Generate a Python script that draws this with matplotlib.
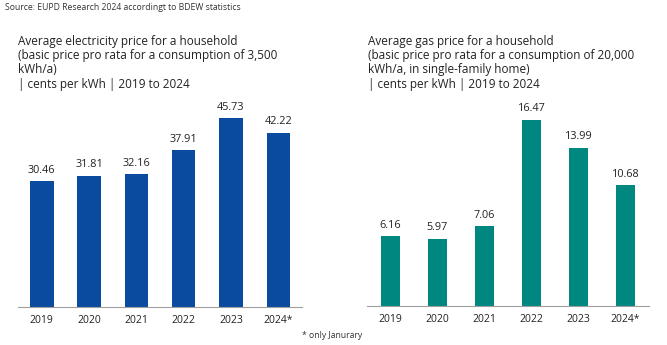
import numpy as np
import matplotlib.pyplot as plt

plt.rcParams['font.family'] = ['Open Sans', 'DejaVu Sans']

# Data
years = ['2019', '2020', '2021', '2022', '2023', '2024*']
electricity = [30.46, 31.81, 32.16, 37.91, 45.73, 42.22]
gas = [6.16, 5.97, 7.06, 16.47, 13.99, 10.68]

elec_title = ('Average electricity price for a household\n'
              '(basic price pro rata for a consumption of 3,500\n'
              'kWh/a)\n'
              '| cents per kWh | 2019 to 2024')
gas_title = ('Average gas price for a household\n'
             '(basic price pro rata for a consumption of 20,000\n'
             'kWh/a, in single-family home)\n'
             '| cents per kWh | 2019 to 2024')

W, H = 667, 345
fig = plt.figure(figsize=(W / 100, H / 100), dpi=100)


def px_axes(left, right, bottom_y, ymax, px_per_unit):
    # axes placed in pixel coordinates (y measured from top of image)
    height = ymax * px_per_unit
    return fig.add_axes([left / W, (H - bottom_y) / H, (right - left) / W, height / H])


def bar_panel(ax, values, color, width, ymax):
    x = np.arange(len(values))
    ax.bar(x, values, width=width, color=color)
    ax.set_xlim(-0.5, len(values) - 0.5)
    ax.set_ylim(0, ymax)
    for s in ['top', 'right', 'left']:
        ax.spines[s].set_visible(False)
    ax.spines['bottom'].set_color('#a0a0a0')
    ax.spines['bottom'].set_linewidth(0.8)
    ax.set_yticks([])
    ax.set_xticks(x)
    ax.set_xticklabels(years, fontsize=7.5, color='#222222')
    ax.tick_params(axis='x', length=0, pad=6)
    for xi, v in zip(x, values):
        ax.annotate(f'{v:.2f}', (xi, v), xytext=(0, 4), textcoords='offset points',
                    ha='center', va='bottom', fontsize=7.8, color='#222222')


ax1 = px_axes(18, 302, 307, 50, 4.13)
bar_panel(ax1, electricity, '#0a4a9f', 0.5, 50)

ax2 = px_axes(367, 649, 306, 18, 11.3)
bar_panel(ax2, gas, '#00877f', 0.4, 18)

fig.text(18 / W, 1 - 35 / H, elec_title, fontsize=8.5, va='top', ha='left',
         linespacing=1.12, color='#222222')
fig.text(368 / W, 1 - 35 / H, gas_title, fontsize=8.5, va='top', ha='left',
         linespacing=1.12, color='#222222')
fig.text(5 / W, 1 - 7 / H, 'Source: EUPD Research 2024 accordingt to BDEW statistics',
         fontsize=6.2, va='center', ha='left', color='#333333')
fig.text(332 / W, 1 - 335 / H, '* only Janurary', fontsize=6.2, va='center',
         ha='center', color='#333333')

fig.savefig('out.png', dpi=100)
